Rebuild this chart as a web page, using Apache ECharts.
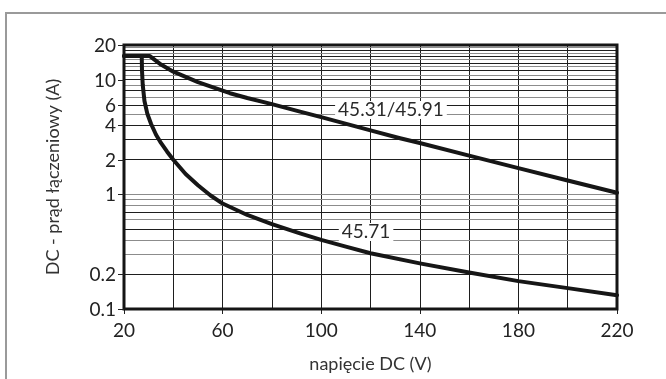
<!DOCTYPE html>
<html><head><meta charset="utf-8">
<script src="https://cdn.jsdelivr.net/npm/echarts@6/dist/echarts.min.js"></script>
<style>html,body{margin:0;padding:0;background:#fff}#c{width:666px;height:379px}</style>
</head><body><div id="c"></div>
<script>
// ---- data ----
const titleText = 'Wytrzymałość łączeniowa DC (obciążenie rezystancyjne, styk zwierny, 1 styk)';
const xAxisName = 'napięcie DC (V)';
const yAxisName = 'DC - prąd łączeniowy (A)';
const xTickValues = [20, 60, 100, 140, 180, 220];
const yTickValues = [20, 10, 6, 4, 2, 1, 0.2, 0.1];
const yGridDark = [18, 16, 14, 12, 10, 8, 6, 4, 3, 2, 0.7, 0.5, 0.2];
const yGridLight = [19, 17, 15, 13, 11, 9, 7, 5, 1, 0.9, 0.8, 0.6, 0.4, 0.3];
const seriesNames = ['45.31/45.91', '45.71'];
const curveUpperX = [20, 30.5, 35, 40, 50, 60, 63, 70, 80, 91.4, 100, 120, 132, 140, 160, 180, 200, 220];
const curveUpperY = [16, 16, 13.5, 11.7, 9.5, 8.0, 7.6, 6.9, 6.1, 5.25, 4.7, 3.6, 3.08, 2.8, 2.17, 1.69, 1.32, 1.03];
const curveLowerX = [20, 27.2, 27.3, 27.6, 28.3, 29.5, 31, 33, 35, 37.5, 40, 45, 50, 55, 60, 70, 80, 91.4, 100, 110, 120, 140, 160, 180, 200, 220];
const curveLowerY = [16, 16, 12, 9, 6.5, 5, 4.1, 3.3, 2.8, 2.35, 2.0, 1.5, 1.2, 0.98, 0.83, 0.66, 0.55, 0.457, 0.4, 0.35, 0.306, 0.25, 0.208, 0.175, 0.152, 0.132];
const labelAnchorX = [128.3, 118.2];
const labelAnchorY = [5.43, 0.469];

// ---- chart ----
const FONT = 'Lato';
const chart = echarts.init(document.getElementById('c'), null, {renderer: 'canvas'});
const zip = (xs, ys) => xs.map((x, i) => [x, ys[i]]);

const gridLines = []
  .concat(yGridDark.map(v => ({yAxis: v, lineStyle: {color: '#1e1e1e', width: 1, type: 'solid'}, label: {show: false}})))
  .concat(yGridLight.map(v => ({yAxis: v, lineStyle: {color: '#8c8c8c', width: 1, type: 'solid'}, label: {show: false}})));

function curveSeries(name, data, idx, withGrid) {
  const s = {
    type: 'line', name: name, data: data, symbol: 'none', smooth: false,
    lineStyle: {color: '#161616', width: 4, cap: 'round', join: 'round'},
    z: 5, animation: false,
    markPoint: {
      symbol: 'rect', symbolSize: 0, silent: true, animation: false,
      data: [{coord: [labelAnchorX[idx], labelAnchorY[idx]]}],
      label: {show: true, position: 'inside', formatter: name, fontFamily: FONT, fontSize: 19, color: '#2a2a2a',
        backgroundColor: '#fff', padding: [0, 3, -1, 3]},
      z: 4
    }
  };
  if (withGrid) {
    s.markLine = {silent: true, symbol: 'none', animation: false, z: 1, label: {show: false}, data: gridLines};
  }
  return s;
}

chart.setOption({
  animation: false,
  backgroundColor: '#fff',
  grid: {left: 124, right: 49, top: 45, bottom: 70, show: true, borderColor: '#151515', borderWidth: 3, backgroundColor: 'transparent', z: 6},
  xAxis: {
    type: 'value', min: 20, max: 220, interval: 40,
    name: xAxisName, nameLocation: 'middle', nameGap: 46,
    nameTextStyle: {fontFamily: FONT, fontSize: 18, color: '#333'},
    axisLine: {show: false},
    axisTick: {show: true, length: 5, lineStyle: {color: '#222', width: 1}},
    axisLabel: {fontFamily: FONT, fontSize: 19, color: '#222', margin: 12},
    splitLine: {show: true, lineStyle: {color: '#1e1e1e', width: 1}},
    minorTick: {show: false, splitNumber: 2},
    minorSplitLine: {show: true, lineStyle: {color: '#1e1e1e', width: 1}}
  },
  yAxis: {
    type: 'log', logBase: 10, min: 0.1, max: 20,
    name: yAxisName, nameLocation: 'middle', nameGap: 62, nameRotate: 90,
    nameTextStyle: {fontFamily: FONT, fontSize: 18, color: '#333'},
    axisLine: {show: false}, axisTick: {show: false}, axisLabel: {show: false},
    splitLine: {show: false}
  },
  series: [
    curveSeries(seriesNames[0], zip(curveUpperX, curveUpperY), 0, true),
    curveSeries(seriesNames[1], zip(curveLowerX, curveLowerY), 1, false)
  ]
});

// y ticks and tick labels placed through the axis scale, plus outer frame and clipped title
const x0 = chart.convertToPixel({xAxisIndex: 0}, 20);
const tickEls = [];
yTickValues.forEach(v => {
  const y = Math.round(chart.convertToPixel({yAxisIndex: 0}, v)) + 0.5;
  tickEls.push({type: 'line', shape: {x1: x0 - 6, y1: y, x2: x0, y2: y}, style: {stroke: '#222', lineWidth: 1}, silent: true, z: 10});
  tickEls.push({type: 'text', x: x0 - 8, y: y, style: {text: String(v), fontFamily: FONT, fontSize: 19, fill: '#222', align: 'right', verticalAlign: 'middle'}, silent: true, z: 10});
});
chart.setOption({
  graphic: [
    {type: 'rect', shape: {x: 6, y: 13, width: 720, height: 420}, style: {fill: 'none', stroke: '#9a9a9a', lineWidth: 2}, silent: true, z: 0},
    {type: 'text', x: 333, y: -19, style: {text: titleText, fontFamily: FONT, fontWeight: 'bold', fontSize: 18, fill: '#111', align: 'center', verticalAlign: 'top'}, silent: true, z: 10}
  ].concat(tickEls)
});
</script></body></html>
